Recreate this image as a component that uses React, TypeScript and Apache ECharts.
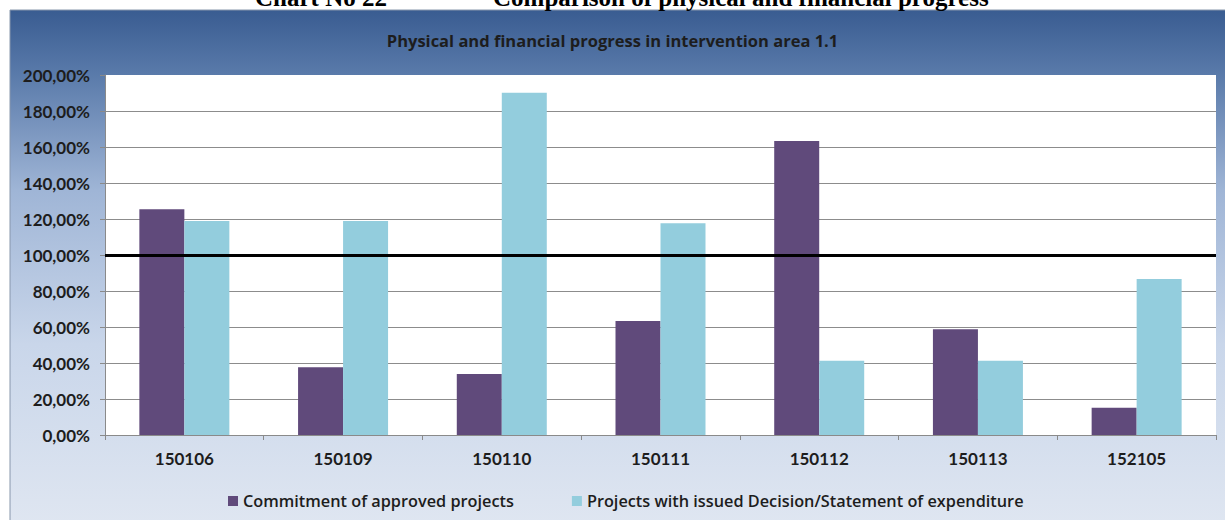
import React, { useEffect, useRef } from "react";
import * as echarts from "echarts";

const categories = ["150106", "150109", "150110", "150111", "150112", "150113", "152105"];
const commitmentValues = [125.4, 37.6, 33.9, 63.3, 163.3, 58.7, 15.2];
const issuedValues = [118.9, 118.9, 190.2, 117.6, 41.3, 41.3, 86.7];
const seriesNames = [
  "Commitment of approved projects",
  "Projects with issued Decision/Statement of expenditure",
];
const thresholdValue = 100;
const yMin = 0;
const yMax = 200;
const yInterval = 20;

const FONT = "Lato, 'Open Sans', sans-serif";
const WIDE_FONT = "'Open Sans', Lato, sans-serif";
const TEXT = "#1d1d1d";

export default function App() {
  const ref = useRef<HTMLDivElement>(null);

  useEffect(() => {
    document.body.style.margin = "0";
    if (!ref.current) return;
    const chart = echarts.init(ref.current, undefined, { renderer: "svg" });
    chart.setOption({
      animation: false,
      graphic: [
        {
          type: "rect",
          z: -10,
          silent: true,
          shape: { x: 10, y: 10, width: 1220, height: 515 },
          style: {
            fill: new echarts.graphic.LinearGradient(0, 0, 0, 1, [
              { offset: 0, color: "#395c91" },
              { offset: 0.12, color: "#5879a9" },
              { offset: 0.35, color: "#9fb5d6" },
              { offset: 0.65, color: "#c9d6ea" },
              { offset: 1, color: "#dfe6f1" },
            ]),
            stroke: "#8796ab",
            lineWidth: 1,
          },
        },
        {
          type: "text",
          z: 10,
          silent: true,
          x: 255,
          y: -3,
          style: {
            text: "Chart No 22",
            font: "bold 25px 'Liberation Serif', 'Times New Roman', serif",
            fill: "#000",
            verticalAlign: "middle",
          },
        },
        {
          type: "text",
          z: 10,
          silent: true,
          x: 493,
          y: -3,
          style: {
            text: "Comparison of physical and financial progress",
            font: "bold 25px 'Liberation Serif', 'Times New Roman', serif",
            fill: "#000",
            verticalAlign: "middle",
          },
        },
      ],
      title: {
        text: "Physical and financial progress in intervention area 1.1",
        left: "center",
        top: 27,
        textStyle: { fontFamily: WIDE_FONT, fontSize: 16.5, fontWeight: "bold", color: TEXT },
      },
      legend: {
        left: 223,
        top: 488,
        itemWidth: 10,
        itemHeight: 10,
        itemGap: 58,
        icon: "rect",
        textStyle: { fontFamily: WIDE_FONT, fontSize: 16.3, fontWeight: 600, color: TEXT },
        data: seriesNames,
      },
      grid: {
        left: 105,
        right: 9,
        top: 75,
        bottom: 85,
        show: true,
        backgroundColor: "#ffffff",
        borderWidth: 0,
        containLabel: false,
      },
      xAxis: {
        type: "category",
        data: categories,
        axisLine: { show: true, lineStyle: { color: "#8a8a8a", width: 1 } },
        axisTick: { show: true, length: 5, lineStyle: { color: "#8a8a8a" } },
        axisLabel: {
          margin: 15,
          fontFamily: FONT,
          fontSize: 17,
          fontWeight: "bold",
          color: TEXT,
        },
      },
      yAxis: {
        type: "value",
        min: yMin,
        max: yMax,
        interval: yInterval,
        axisLine: { show: true, lineStyle: { color: "#8a8a8a", width: 1 } },
        axisTick: { show: true, length: 5, lineStyle: { color: "#8a8a8a" } },
        splitLine: { show: true, showMaxLine: false, lineStyle: { color: "#8c8c8c", width: 1 } },
        axisLabel: {
          margin: 15,
          fontFamily: FONT,
          fontSize: 17,
          fontWeight: "bold",
          color: TEXT,
          formatter: (v: number) => v.toFixed(2).replace(".", ",") + "%",
        },
      },
      series: [
        {
          name: seriesNames[0],
          type: "bar",
          data: commitmentValues,
          barWidth: 45,
          barGap: "0%",
          itemStyle: { color: "#604a7b" },
        },
        {
          name: seriesNames[1],
          type: "bar",
          data: issuedValues,
          barWidth: 45,
          barGap: "0%",
          itemStyle: { color: "#93cddd" },
          markLine: {
            silent: true,
            symbol: "none",
            z: 10,
            label: { show: false },
            lineStyle: {
              color: "#000",
              width: 3,
              type: "solid",
              opacity: 1,
            },
            data: [{ yAxis: thresholdValue }],
          },
        },
      ],
    });
    return () => chart.dispose();
  }, []);

  return <div ref={ref} style={{ width: 1225, height: 520 }} />;
}
